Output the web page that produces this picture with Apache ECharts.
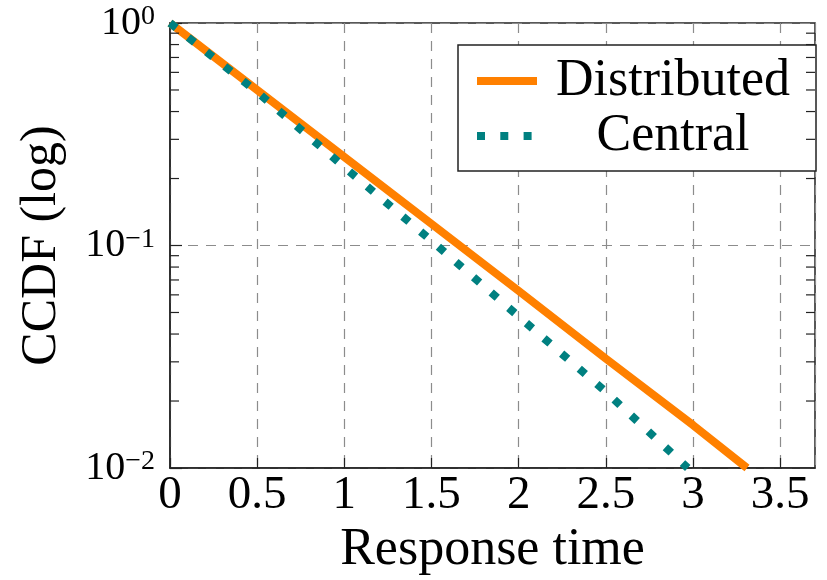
<!DOCTYPE html>
<html>
<head>
<meta charset="utf-8">
<script src="https://cdn.jsdelivr.net/npm/echarts@6/dist/echarts.min.js"></script>
<style>html,body{margin:0;padding:0;background:#fff;}#c{width:827px;height:580px;}</style>
</head>
<body>
<div id="c"></div>
<script>
// Data
const distX = [0, 0.5, 1, 1.5, 2, 2.5, 3, 3.31];
const distY = [1, 0.5, 0.25, 0.125, 0.0625, 0.031, 0.0156, 0.01];
const centX = [0, 0.5, 1, 1.5, 2, 2.5, 2.97];
const centY = [1, 0.49, 0.225, 0.105, 0.048, 0.022, 0.01];
const seriesNames = ['Distributed', 'Central'];
const xTicks = [0, 0.5, 1, 1.5, 2, 2.5, 3, 3.5];
const yMinorTicks = [0.02, 0.03, 0.04, 0.05, 0.06, 0.07, 0.08, 0.09, 0.2, 0.3, 0.4, 0.5, 0.6, 0.7, 0.8, 0.9];

const FONT = 'Liberation Serif';
const X_MIN = 0, X_MAX = 3.7;
const ORANGE = '#ff8000', TEAL = '#008080';
const DOT_DASH = [8, 15.3];
const GRID_DASH = [10, 8];

const chart = echarts.init(document.getElementById('c'), null, {renderer: 'canvas'});

function pairs(xs, ys) { return xs.map((x, i) => [x, ys[i]]); }

const option = {
  backgroundColor: '#fff',
  animation: false,
  grid: {left: 170, right: 12, top: 23, bottom: 112, containLabel: false, outerBoundsMode: 'none',
         show: true, borderColor: '#222', borderWidth: 1.5, backgroundColor: 'transparent'},
  legend: {
    data: [
      {name: seriesNames[0], itemStyle: {opacity: 0}, lineStyle: {width: 8, color: ORANGE, type: 'solid'}},
      {name: seriesNames[1], itemStyle: {opacity: 0}, lineStyle: {width: 8, color: TEAL, type: DOT_DASH}}
    ],
    orient: 'vertical',
    left: 458, top: 45,
    padding: [10, 12, 9, 15],
    borderColor: '#222', borderWidth: 1.5,
    backgroundColor: '#fff',
    itemWidth: 60, itemHeight: 8, itemGap: 3,
    itemStyle: {opacity: 0},
    formatter: n => '{c|' + n + '}',
    textStyle: {
      fontFamily: FONT, fontSize: 52, color: '#000', lineHeight: 50,
      rich: {c: {width: 262, align: 'center', fontFamily: FONT, fontSize: 52, lineHeight: 50, color: '#000'}}
    },
    selectedMode: false
  },
  xAxis: {
    type: 'value', min: X_MIN, max: X_MAX, interval: 0.5,
    name: 'Response time', nameLocation: 'middle', nameGap: 55,
    nameTextStyle: {fontFamily: FONT, fontSize: 52, color: '#000'},
    axisLine: {show: true, lineStyle: {color: '#222', width: 1.5}},
    axisTick: {show: true, inside: true, length: 10, lineStyle: {color: '#222', width: 1.2}},
    axisLabel: {
      fontFamily: FONT, fontSize: 47, color: '#000', margin: 4, showMaxLabel: false,
      formatter: v => xTicks.some(t => Math.abs(t - v) < 1e-9) ? String(v) : ''
    },
    splitLine: {show: true, lineStyle: {color: '#8c8c8c', width: 1.2, type: GRID_DASH}}
  },
  yAxis: {
    type: 'log', logBase: 10, min: 0.01, max: 1,
    name: 'CCDF (log)', nameLocation: 'middle', nameGap: 103, nameRotate: 90,
    nameTextStyle: {fontFamily: FONT, fontSize: 50, color: '#000'},
    axisLine: {show: true, lineStyle: {color: '#222', width: 1.5}},
    axisTick: {show: true, inside: true, length: 12, lineStyle: {color: '#222', width: 1.2}},
    axisLabel: {
      margin: 15,
      formatter: v => {
        const e = Math.round(Math.log10(v));
        return '{b|10}{s|' + (e < 0 ? '\u2212' + (-e) : e) + '}';
      },
      rich: {
        b: {fontFamily: FONT, fontSize: 40, lineHeight: 40, verticalAlign: 'bottom', color: '#000'},
        s: {fontFamily: FONT, fontSize: 28, lineHeight: 28, verticalAlign: 'top', color: '#000'}
      }
    },
    splitLine: {show: true, lineStyle: {color: '#8c8c8c', width: 1.2, type: GRID_DASH}}
  },
  series: [
    {
      name: 'minor', type: 'custom', silent: true, z: 5,
      data: yMinorTicks.map(v => [X_MIN, v]),
      renderItem: (params, api) => {
        const v = api.value(1);
        const l = api.coord([X_MIN, v]);
        const r = api.coord([X_MAX, v]);
        const st = {stroke: '#222', lineWidth: 1.2};
        return {type: 'group', children: [
          {type: 'line', shape: {x1: l[0], y1: l[1], x2: l[0] + 9, y2: l[1]}, style: st},
          {type: 'line', shape: {x1: r[0], y1: r[1], x2: r[0] - 9, y2: r[1]}, style: st}
        ]};
      }
    },
    {
      name: 'Distributed', type: 'line', data: pairs(distX, distY),
      symbol: 'none', z: 3,
      lineStyle: {color: ORANGE, width: 8},
      itemStyle: {color: ORANGE}
    },
    {
      name: 'Central', type: 'line', data: pairs(centX, centY),
      symbol: 'none', z: 4,
      lineStyle: {color: TEAL, width: 8, type: DOT_DASH, cap: 'butt'},
      itemStyle: {color: TEAL}
    }
  ]
};
chart.setOption(option);
</script>
</body>
</html>
